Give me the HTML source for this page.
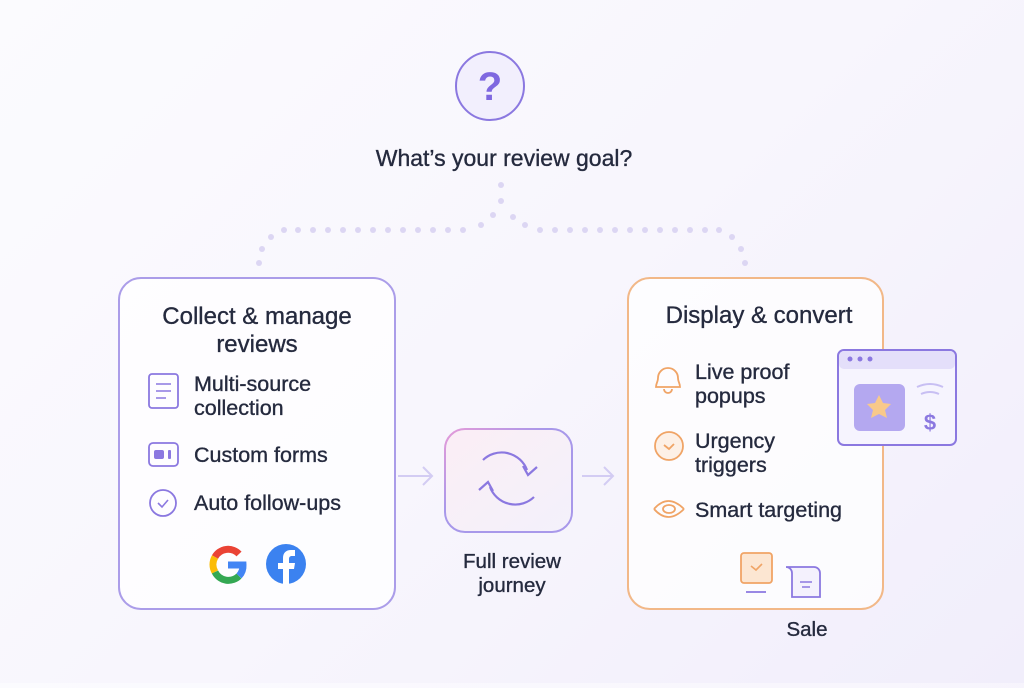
<!DOCTYPE html>
<html><head><meta charset="utf-8"><style>
body{margin:0;width:1024px;height:683px;overflow:hidden;background:linear-gradient(135deg,#fbfbfe 0%,#f8f6fd 50%,#f1eefb 100%);font-family:"Liberation Sans",sans-serif;}
text{stroke:#252a3e;stroke-width:0.35px;}
</style></head><body>
<svg width="1024" height="683" viewBox="0 0 1024 683" xmlns="http://www.w3.org/2000/svg" font-family="Liberation Sans, sans-serif">
<defs>
<linearGradient id="mg" x1="0" y1="0" x2="1" y2="1"><stop offset="0" stop-color="#fbeef5"/><stop offset="1" stop-color="#f3f1fb"/></linearGradient>
<linearGradient id="ms" x1="0" y1="0" x2="1" y2="1"><stop offset="0" stop-color="#e59ad8"/><stop offset="0.4" stop-color="#a898ea"/><stop offset="1" stop-color="#a898ea"/></linearGradient>
</defs>
<circle cx="490" cy="86" r="34" fill="#f2effd" stroke="#8b78e0" stroke-width="2"/>
<text x="490" y="100" text-anchor="middle" font-size="40" font-weight="bold" fill="#7f68e0" style="stroke:none">?</text>
<text x="504" y="166" text-anchor="middle" font-size="23" fill="#252a3e">What’s your review goal?</text>
<g fill="#dcd6f3">
<circle cx="501" cy="185" r="3"/><circle cx="501" cy="201" r="3"/><circle cx="493" cy="215" r="3"/><circle cx="513" cy="217" r="3"/><circle cx="481" cy="225" r="3"/><circle cx="525" cy="225" r="3"/>
<circle cx="463" cy="230" r="3"/><circle cx="448" cy="230" r="3"/><circle cx="433" cy="230" r="3"/><circle cx="418" cy="230" r="3"/><circle cx="403" cy="230" r="3"/><circle cx="388" cy="230" r="3"/><circle cx="373" cy="230" r="3"/><circle cx="358" cy="230" r="3"/><circle cx="343" cy="230" r="3"/><circle cx="328" cy="230" r="3"/><circle cx="313" cy="230" r="3"/><circle cx="298" cy="230" r="3"/><circle cx="284" cy="230" r="3"/><circle cx="271" cy="237" r="3"/><circle cx="262" cy="249" r="3"/><circle cx="259" cy="263" r="3"/>
<circle cx="540" cy="230" r="3"/><circle cx="555" cy="230" r="3"/><circle cx="570" cy="230" r="3"/><circle cx="585" cy="230" r="3"/><circle cx="600" cy="230" r="3"/><circle cx="615" cy="230" r="3"/><circle cx="630" cy="230" r="3"/><circle cx="645" cy="230" r="3"/><circle cx="660" cy="230" r="3"/><circle cx="675" cy="230" r="3"/><circle cx="690" cy="230" r="3"/><circle cx="705" cy="230" r="3"/><circle cx="719" cy="230" r="3"/><circle cx="732" cy="237" r="3"/><circle cx="741" cy="249" r="3"/><circle cx="745" cy="263" r="3"/>
</g>
<!-- left box -->
<rect x="119" y="278" width="276" height="331" rx="22" fill="#fff" fill-opacity="0.75" stroke="#ab9de9" stroke-width="2"/>
<text x="257" y="324" text-anchor="middle" font-size="24" fill="#252a3e">Collect &amp; manage</text>
<text x="257" y="352" text-anchor="middle" font-size="24" fill="#252a3e">reviews</text>
<rect x="149" y="374" width="29" height="34" rx="3" fill="none" stroke="#8b78e0" stroke-width="1.8"/>
<path d="M156 384h15M156 391h15M156 398h10" stroke="#8b78e0" stroke-width="1.6"/>
<text x="194" y="391" font-size="21.5" fill="#252a3e">Multi-source</text>
<text x="194" y="415" font-size="21.5" fill="#252a3e">collection</text>
<rect x="149" y="443" width="29" height="23" rx="4" fill="none" stroke="#8b78e0" stroke-width="1.8"/>
<rect x="154" y="450" width="10" height="9" rx="2" fill="#8b78e0"/><rect x="168" y="450" width="3" height="9" rx="1" fill="#8b78e0"/>
<text x="194" y="462" font-size="21.5" fill="#252a3e">Custom forms</text>
<circle cx="163" cy="503" r="13" fill="none" stroke="#8b78e0" stroke-width="1.8"/>
<path d="M158 503l4 4 6-7" fill="none" stroke="#8b78e0" stroke-width="1.6"/>
<text x="194" y="510" font-size="21.5" fill="#252a3e">Auto follow-ups</text>
<!-- Google G -->
<g fill="none" stroke-width="7">
<path d="M239 554a15 15 0 0 0-24 3" stroke="#ea4335"/>
<path d="M215 557a15 15 0 0 0 0 15" stroke="#fbbc05"/>
<path d="M215 572a15 15 0 0 0 24 4" stroke="#34a853"/>
<path d="M239 576a15 15 0 0 0 4-11h-15" stroke="#4285f4"/>
</g>
<circle cx="286" cy="564" r="20" fill="#3b82f0"/>
<path d="M283 584v-15h-5v-6h5v-5c0-5 3-8 8-8h4v6h-3c-2 0-3 1-3 3v4h6l-1 6h-5v15z" fill="#fff"/>
<!-- arrows -->
<path d="M398 476h33M423 467l9 9-9 9" fill="none" stroke="#d3ccf3" stroke-width="2"/>
<path d="M582 476h30M604 467l9 9-9 9" fill="none" stroke="#d3ccf3" stroke-width="2"/>
<!-- middle -->
<rect x="445" y="429" width="127" height="103" rx="20" fill="url(#mg)" stroke="url(#ms)" stroke-width="2"/>
<path d="M483 460a27 27 0 0 1 44 10M537 467l-9 8-5-9" fill="none" stroke="#8b78e0" stroke-width="2.2"/>
<path d="M534 497a27 27 0 0 1-44-10M479 490l9-8 5 9" fill="none" stroke="#8b78e0" stroke-width="2.2"/>
<text x="512" y="568" text-anchor="middle" font-size="20.5" fill="#252a3e">Full review</text>
<text x="512" y="592" text-anchor="middle" font-size="20.5" fill="#252a3e">journey</text>
<!-- right box -->
<rect x="628" y="278" width="255" height="331" rx="22" fill="#fff" fill-opacity="0.75" stroke="#f2b888" stroke-width="2"/>
<text x="759" y="323" text-anchor="middle" font-size="24" fill="#252a3e">Display &amp; convert</text>
<path d="M656 387c0-4 2-5 2-9a10 10 0 0 1 20 0c0 4 2 5 2 9z" fill="none" stroke="#f0a466" stroke-width="1.8"/>
<path d="M664 389a4 4 0 0 0 8 0" fill="none" stroke="#f0a466" stroke-width="1.8"/>
<text x="695" y="379" font-size="21.5" fill="#252a3e">Live proof</text>
<text x="695" y="403" font-size="21.5" fill="#252a3e">popups</text>
<circle cx="669" cy="446" r="14" fill="#fdf0e6" stroke="#f0a466" stroke-width="1.8"/>
<path d="M664 445l5 4 5-5" fill="none" stroke="#f0a466" stroke-width="1.8"/>
<text x="695" y="448" font-size="21.5" fill="#252a3e">Urgency</text>
<text x="695" y="472" font-size="21.5" fill="#252a3e">triggers</text>
<path d="M654 509q14-16 30 0M654 509q14 16 30 0" fill="none" stroke="#f0a466" stroke-width="1.8"/>
<ellipse cx="669" cy="509" rx="6" ry="4" fill="none" stroke="#f0a466" stroke-width="1.8"/>
<text x="695" y="517" font-size="21.5" fill="#252a3e">Smart targeting</text>
<rect x="741" y="553" width="31" height="30" rx="3" fill="#fce6d2" stroke="#f0a466" stroke-width="1.8"/>
<path d="M751 566l5 4 6-6" fill="none" stroke="#f0a466" stroke-width="1.6"/>
<path d="M746 592h20" stroke="#8b78e0" stroke-width="1.8"/>
<path d="M786 567h28a6 6 0 0 1 6 6v24h-28v-24a6 6 0 0 0-6-6z" fill="#f4f1fd" stroke="#8b78e0" stroke-width="1.8"/>
<path d="M800 582h12M802 587h8" stroke="#8b78e0" stroke-width="1.5"/>
<text x="807" y="636" text-anchor="middle" font-size="20.5" fill="#252a3e">Sale</text>
<!-- browser -->
<rect x="838" y="350" width="118" height="95" rx="6" fill="#f6f4fe" stroke="#8b78e0" stroke-width="2"/>
<rect x="839" y="351" width="116" height="18" rx="5" fill="#e4dffa"/>
<circle cx="850" cy="359" r="2.5" fill="#8b78e0"/><circle cx="860" cy="359" r="2.5" fill="#8b78e0"/><circle cx="870" cy="359" r="2.5" fill="#8b78e0"/>
<rect x="854" y="384" width="51" height="47" rx="6" fill="#b4a8f0"/>
<path d="M879 395l4 8 8 1-6 6 2 8-8-4-8 4 2-8-6-6 8-1z" fill="#f8c98a"/>
<path d="M917 387q13-6 26 0M921 394q9-4 18 0" fill="none" stroke="#c8bff3" stroke-width="2"/>
<text x="930" y="430" text-anchor="middle" font-size="22" font-weight="bold" fill="#8b78e0" style="stroke:none">$</text>
</svg>
</body></html>
